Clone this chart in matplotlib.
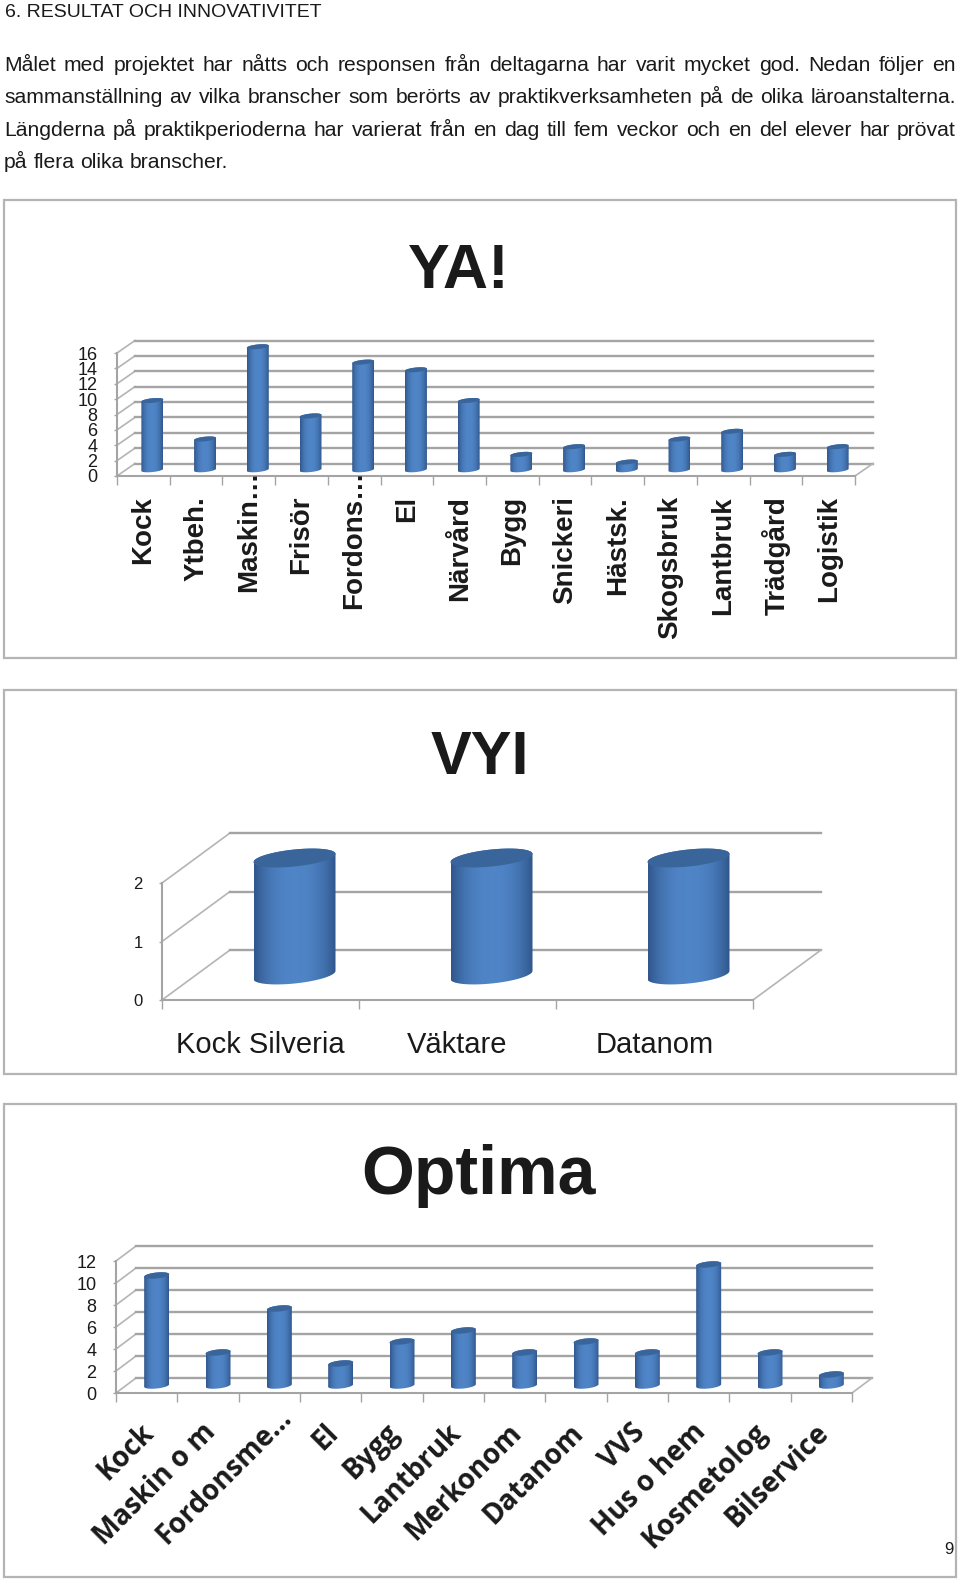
import matplotlib
matplotlib.use('Agg')
import matplotlib.pyplot as plt
import numpy as np
from matplotlib.patches import Rectangle, Polygon
from matplotlib.path import Path

W, H = 960, 1581
GRID = '#a4a4a4'
SANS = 'Liberation Sans'

# page text
heading = '6. RESULTAT OCH INNOVATIVITET'
body_lines = [
    'Målet med projektet har nåtts och responsen från deltagarna har varit mycket god. Nedan följer en',
    'sammanställning av vilka branscher som berörts av praktikverksamheten på de olika läroanstalterna.',
    'Längderna på praktikperioderna har varierat från en dag till fem veckor och en del elever har prövat',
    'på flera olika branscher.',
]

# YA!
ya_labels = ['Kock', 'Ytbeh.', 'Maskin…', 'Frisör', 'Fordons…', 'El', 'Närvård', 'Bygg',
             'Snickeri', 'Hästsk.', 'Skogsbruk', 'Lantbruk', 'Trädgård', 'Logistik']
ya_values = [9, 4, 16, 7, 14, 13, 9, 2, 3, 1, 4, 5, 2, 3]
ya_ticks = [0, 2, 4, 6, 8, 10, 12, 14, 16]

# VYI
vyi_labels = ['Kock Silveria', 'Väktare', 'Datanom']
vyi_values = [2, 2, 2]
vyi_ticks = [0, 1, 2]

# Optima
optima_labels = ['Kock', 'Maskin o m', 'Fordonsme…', 'El', 'Bygg', 'Lantbruk', 'Merkonom',
                 'Datanom', 'VVS', 'Hus o hem', 'Kosmetolog', 'Bilservice']
optima_values = [10, 3, 7, 2, 4, 5, 3, 4, 3, 11, 3, 1]
optima_ticks = [0, 2, 4, 6, 8, 10, 12]

fig = plt.figure(figsize=(W / 100, H / 100), dpi=100)
page = fig.add_axes([0, 0, 1, 1])
page.set_xlim(0, W)
page.set_ylim(H, 0)
page.axis('off')


def justified(text, y, size, right):
    # spread the words out to the right margin like the pdf does
    words = text.split(' ')
    x0 = 4
    rend = fig.canvas.get_renderer()
    widths = []
    for w in words:
        t = page.text(0, 0, w, fontsize=size, family=SANS)
        widths.append(t.get_window_extent(rend).width)
        t.remove()
    space = (right - x0 - sum(widths)) / (len(words) - 1)
    x = x0
    for w, wd in zip(words, widths):
        page.text(x, y, w, fontsize=size, family=SANS, va='baseline', color='#1a1a1a')
        x += wd + space


def cylinder(ax, xc, value, offset, a, b, shear, sx, sy):
    # offset is the pixel shift of the base centre from the front plane
    t = np.linspace(0, 2 * np.pi, 80)
    cx = xc + offset[0] * sx
    cy = offset[1] * sy
    top = cy + value
    ex = a * np.cos(t)
    ey = b * np.sin(t) + shear * a * np.cos(t)
    # outline of the body: lower half of base ellipse + upper half of top ellipse
    low = t[t >= np.pi]
    up = t[t <= np.pi]
    verts = np.vstack([
        np.column_stack([cx + a * np.cos(low) * sx, cy + (b * np.sin(low) + shear * a * np.cos(low)) * sy]),
        np.column_stack([cx + a * np.cos(up) * sx, top + (b * np.sin(up) + shear * a * np.cos(up)) * sy]),
    ])
    verts = np.vstack([verts, verts[:1]])
    u = np.linspace(-1, 1, 64)
    shade = 1 - np.abs(u) ** 2.4
    dark = np.array([0.19, 0.34, 0.55])
    light = np.array([0.31, 0.52, 0.78])
    grad = (dark + (light - dark) * shade[:, None])[None, :, :]
    pad = 2 * (b + a * abs(shear)) * sy
    im = ax.imshow(grad, extent=(cx - a * sx, cx + a * sx, cy - pad, top + pad), aspect='auto',
                   zorder=5, interpolation='bilinear')
    im.set_clip_box(fig.bbox)
    im.set_clip_path(Path(verts), transform=ax.transData)
    ax.add_patch(Polygon(np.column_stack([cx + ex * sx, top + ey * sy]), closed=True,
                         fc='#39659b', ec='none', zorder=6, clip_on=False))


def chart(labels, values, ticks, left, right, y0, ytop, depth, bar_a, bar_b, y_size):
    n = len(labels)
    ax = fig.add_axes([left / W, 1 - y0 / H, (right - left) / W, (y0 - ytop) / H])
    ymax = ticks[-1]
    sx = n / (right - left)
    sy = ymax / (y0 - ytop)
    dx, dy = depth[0] * sx, depth[1] * sy
    # walls
    for v in ticks:
        ax.plot([0, dx], [v, v + dy], color='#b4b4b4', lw=1.2, clip_on=False, zorder=1)
        ax.plot([dx, n + dx], [v + dy, v + dy], color=GRID, lw=1.7, clip_on=False, zorder=1)
    ax.plot([n, n + dx], [0, dy], color='#b4b4b4', lw=1.2, clip_on=False, zorder=1)
    # bars stand half way into the floor
    for i, v in enumerate(values):
        cylinder(ax, i + 0.5, v, (depth[0] / 2, depth[1] / 2), bar_a, bar_b, 0.1, sx, sy)
    ax.set_xlim(0, n)
    ax.set_ylim(0, ymax)
    ax.patch.set_visible(False)
    for s in ['top', 'right']:
        ax.spines[s].set_visible(False)
    for s in ['left', 'bottom']:
        ax.spines[s].set_color(GRID)
        ax.spines[s].set_linewidth(1.5)
        ax.spines[s].set_zorder(2)
    ax.set_xticks(range(n + 1))
    ax.set_xticklabels([])
    ax.set_yticks(ticks)
    ax.tick_params(axis='x', length=6.5, width=1, color=GRID)
    ax.tick_params(axis='y', length=2.5, width=1, color=GRID, pad=11.5, labelsize=y_size, labelcolor='#1a1a1a')
    for t in ax.get_yticklabels():
        t.set_family(SANS)
    return ax


for top, bottom in [(200, 658), (690, 1074), (1104, 1577)]:
    page.add_patch(Rectangle((3.5, top), 952, bottom - top, fc='white', ec='#b4b4b4', lw=1.6))

page.text(5, 17, heading, fontsize=14, family=SANS, va='baseline', color='#1a1a1a')
justified(body_lines[0], 71, 15.2, 956)
justified(body_lines[1], 103, 15.2, 956)
justified(body_lines[2], 136, 15.2, 956)
justified(body_lines[3], 168, 15.2, 228)

page.text(459, 272, 'YA!', fontsize=45, family=SANS, weight='bold', ha='center', va='center', color='#1a1a1a')
page.text(480, 758, 'VYI', fontsize=44, family=SANS, weight='bold', ha='center', va='center', color='#1a1a1a')
page.text(479, 1176, 'Optima', fontsize=49, family=SANS, weight='bold', ha='center', va='center', color='#1a1a1a')
page.text(949, 1549, '9', fontsize=12, family=SANS, ha='center', va='center', color='#1a1a1a')

ax1 = chart(ya_labels, ya_values, ya_ticks, 117, 855, 476, 353, (18, 12.5), 11, 2.3, 13)
for i, name in enumerate(ya_labels):
    # the two cut names run up past the axis with their dots
    off = -20 + (26 if name.endswith('…') else 0)
    ax1.annotate(name, (i + 0.5, 0), xytext=(0, off), textcoords='offset pixels', rotation=90,
                 ha='center', va='top', fontsize=20, family=SANS, weight='bold',
                 color='#1a1a1a', annotation_clip=False, zorder=8)

ax2 = chart(vyi_labels, vyi_values, vyi_ticks, 162, 753, 1000, 883, (68, 50), 41, 8.5, 12)
for i, name in enumerate(vyi_labels):
    ax2.annotate(name, (i + 0.5, 0), xytext=(0, -45), textcoords='offset pixels', ha='center',
                 va='center', fontsize=21, family=SANS, color='#1a1a1a', annotation_clip=False)

ax3 = chart(optima_labels, optima_values, optima_ticks, 116, 852, 1393, 1261, (20, 15), 12.5, 3, 13)
for i, name in enumerate(optima_labels):
    # same thing here, the cut name sits further up the slant
    shift = 15 if name.endswith('…') else 0
    ax3.annotate(name, (i + 0.5, 0), xytext=(-7 + shift, -25 + shift), textcoords='offset pixels', rotation=45,
                 rotation_mode='anchor', ha='right', va='top', fontsize=20, family='Open Sans',
                 weight='bold', color='#1a1a1a', annotation_clip=False)

fig.savefig('out.png', dpi=100)
